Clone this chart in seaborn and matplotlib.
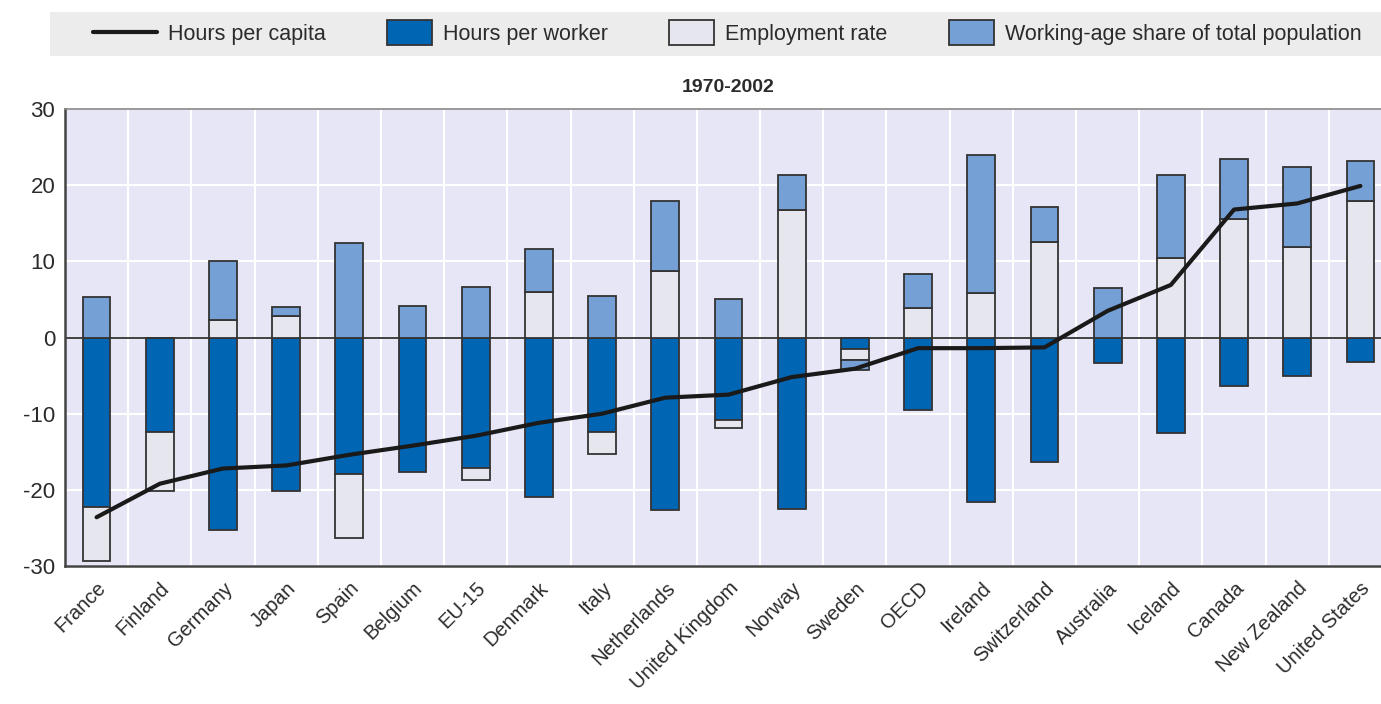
import matplotlib
matplotlib.use("Agg")
import matplotlib.pyplot as plt
from matplotlib.lines import Line2D
from matplotlib.patches import Patch, Rectangle
from matplotlib.legend_handler import HandlerPatch
import numpy as np
import pandas as pd
import seaborn as sns

# data (percentage change, 1970-2002)
countries = ["France", "Finland", "Germany", "Japan", "Spain", "Belgium", "EU-15",
             "Denmark", "Italy", "Netherlands", "United Kingdom", "Norway", "Sweden",
             "OECD", "Ireland", "Switzerland", "Australia", "Iceland", "Canada",
             "New Zealand", "United States"]
hours_per_worker = [-22.2, -12.4, -25.3, -20.1, -17.9, -17.6, -17.1, -20.9, -12.4, -22.7,
                    -10.8, -22.5, -1.5, -9.5, -21.6, -16.3, -3.4, -12.6, -6.4, -5.0, -3.2]
employment_rate = [-7.1, -7.7, 2.3, 2.8, -8.4, 0.0, -1.6, 6.0, -2.9, 8.7,
                   -1.1, 16.8, -1.5, 3.9, 5.9, 12.6, 0.0, 10.5, 15.6, 11.9, 17.9]
working_age_share = [5.3, 0.0, 7.7, 1.2, 12.4, 4.2, 6.6, 5.6, 5.5, 9.2,
                     5.0, 4.5, -1.3, 4.5, 18.0, 4.5, 6.5, 10.8, 7.8, 10.5, 5.3]
hours_per_capita = [-23.6, -19.2, -17.2, -16.8, -15.4, -14.2, -12.9, -11.2, -10.0, -7.9,
                    -7.5, -5.2, -4.1, -1.4, -1.4, -1.3, 3.5, 6.9, 16.8, 17.6, 19.9]

series = [("Hours per worker", hours_per_worker, "#0066b3"),
          ("Employment rate", employment_rate, "#e6e6ee"),
          ("Working-age share of total population", working_age_share, "#75a0d6")]

sns.set_theme(style="white")
plt.rcParams['font.family'] = ['Liberation Sans Narrow', 'Liberation Sans', 'DejaVu Sans']
txt = "#2b2b2b"

fig = plt.figure(figsize=(13.81, 7.04), dpi=100)
ax = fig.add_axes([65 / 1381, 138 / 704, 1327 / 1381, 457 / 704])
ax.set_facecolor("#e7e6f6")

x = np.arange(len(countries))
edge = "#333333"

# stacked bars: positives stack upwards, negatives downwards
pos_base = np.zeros(len(countries))
neg_base = np.zeros(len(countries))
for name, vals, col in series:
    v = np.array(vals)
    bottom = np.where(v >= 0, pos_base, neg_base)
    ax.bar(x, v, bottom=bottom, width=0.44, color=col, edgecolor=edge,
           linewidth=1.3, zorder=3)
    pos_base = pos_base + np.where(v >= 0, v, 0)
    neg_base = neg_base + np.where(v < 0, v, 0)

# hours per capita line
line_df = pd.DataFrame({"x": x, "hours": hours_per_capita})
sns.lineplot(data=line_df, x="x", y="hours", ax=ax, color="#1a1a1a",
             linewidth=3.0, zorder=5)

ax.axhline(0, color="#333333", linewidth=1.3, zorder=2)

ax.set_xlim(-0.5, len(countries) - 0.5)
ax.set_ylim(-30, 30)
ax.set_yticks([-30, -20, -10, 0, 10, 20, 30])
ax.set_yticklabels(["-30", "-20", "-10", "0", "10", "20", "30"], fontsize=16, color=txt)
ax.set_xticks(x)
ax.set_xticklabels(countries, rotation=45, ha="right", rotation_mode="anchor",
                   fontsize=14.5, color=txt)
ax.set_xticks(np.arange(len(countries) - 1) + 0.5, minor=True)
ax.tick_params(axis="x", which="major", length=0, pad=9)
ax.tick_params(axis="x", which="minor", direction="in", length=9,
               width=1.2, color="#333333")
ax.tick_params(axis="y", direction="in", length=11, width=1.2,
               color="#333333", pad=7)

ax.grid(True, axis="y", which="major", color="white", linewidth=1.5, zorder=0)
ax.grid(True, axis="x", which="minor", color="white", linewidth=1.5, zorder=0)
ax.set_axisbelow(True)
ax.set_xlabel("")
ax.set_ylabel("")

for side in ["left", "bottom"]:
    ax.spines[side].set_color("#444444")
    ax.spines[side].set_linewidth(1.8)
ax.spines["top"].set_color("#888888")
ax.spines["top"].set_linewidth(1.2)
ax.spines["right"].set_visible(False)

ax.set_title("1970-2002", fontsize=14, fontweight="bold", pad=12, color=txt)

# legend strip
fig.patches.append(Rectangle((50 / 1381, 1 - 56 / 704), 1331 / 1381, 44 / 704,
                             transform=fig.transFigure, facecolor="#ececec",
                             edgecolor="none", zorder=0))


def narrow_patch(legend, orig_handle, xdescent, ydescent, width, height, fontsize):
    return Rectangle((-xdescent + width * 0.3, -ydescent - 2), width * 0.7, height + 4)


handles = [Line2D([0], [0], color="#1a1a1a", linewidth=3.0)]
labels = ["Hours per capita"]
for name, vals, col in series:
    handles.append(Patch(facecolor=col, edgecolor=edge, linewidth=1.3))
    labels.append(name)

leg = fig.legend(handles, labels, ncol=4, mode="expand", frameon=False,
                 bbox_to_anchor=(82 / 1381, 1 - 56 / 704, 1290 / 1381, 44 / 704),
                 loc="lower left", fontsize=15.5, handlelength=3.0,
                 handleheight=1.0, borderaxespad=0, borderpad=0.5,
                 handletextpad=0.5, labelcolor=txt,
                 handler_map={Patch: HandlerPatch(patch_func=narrow_patch)})

fig.savefig("out.png", dpi=100)
